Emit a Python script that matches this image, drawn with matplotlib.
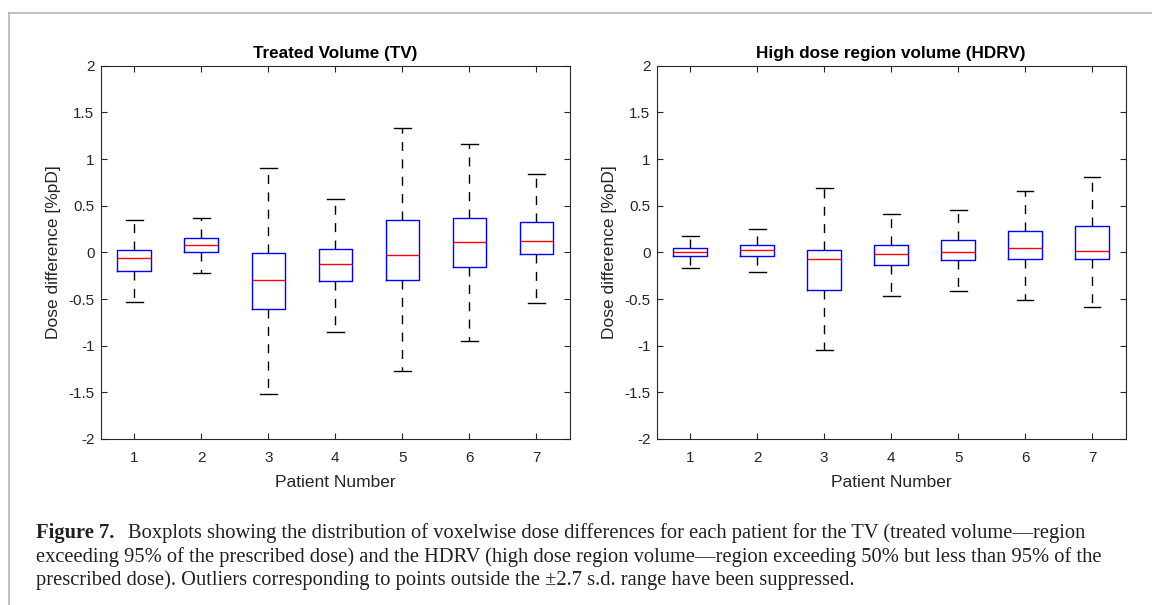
"""
Boxplots of voxelwise dose differences per patient, TV vs HDRV.
Box stats read off the published figure (whiskers at +-2.7 s.d., outliers hidden).
"""

import matplotlib
matplotlib.use("Agg")
import matplotlib.pyplot as plt
from matplotlib.lines import Line2D

plt.rcParams["font.family"] = ["Liberation Sans", "DejaVu Sans"]

patients = [1, 2, 3, 4, 5, 6, 7]

# Treated Volume (TV)
tv_whislo = [-0.53, -0.22, -1.52, -0.85, -1.27, -0.95, -0.54]
tv_q1     = [-0.20, 0.00, -0.61, -0.31, -0.30, -0.16, -0.02]
tv_med    = [-0.06, 0.075, -0.30, -0.12, -0.03, 0.11, 0.12]
tv_q3     = [0.02, 0.15, -0.01, 0.04, 0.35, 0.37, 0.33]
tv_whishi = [0.35, 0.37, 0.90, 0.57, 1.33, 1.16, 0.84]

# High dose region volume (HDRV)
hd_whislo = [-0.17, -0.21, -1.05, -0.47, -0.41, -0.51, -0.59]
hd_q1     = [-0.04, -0.035, -0.40, -0.14, -0.08, -0.07, -0.07]
hd_med    = [0.00, 0.025, -0.07, -0.02, 0.00, 0.045, 0.01]
hd_q3     = [0.045, 0.08, 0.03, 0.08, 0.13, 0.225, 0.28]
hd_whishi = [0.17, 0.255, 0.69, 0.41, 0.45, 0.66, 0.81]

yticks = [-2, -1.5, -1, -0.5, 0, 0.5, 1, 1.5, 2]
ytick_labels = ["-2", "-1.5", "-1", "-0.5", "0", "0.5", "1", "1.5", "2"]

caption_bold = "Figure 7."
caption_lines = [
    "Boxplots showing the distribution of voxelwise dose differences for each patient "
    "for the TV (treated volume\u2014region",
    "exceeding 95% of the prescribed dose) and the HDRV (high dose region volume\u2014region "
    "exceeding 50% but less than 95% of the",
    "prescribed dose). Outliers corresponding to points outside the \u00b12.7 s.d. range "
    "have been suppressed.",
]

AX_COL = "#262626"


def make_stats(lo, q1, med, q3, hi):
    return [dict(whislo=a, q1=b, med=c, q3=d, whishi=e, fliers=[])
            for a, b, c, d, e in zip(lo, q1, med, q3, hi)]


def draw_panel(ax, stats, title):
    ax.bxp(stats, positions=patients, widths=0.5, showfliers=False,
           boxprops=dict(color="blue", linewidth=1.0),
           medianprops=dict(color="red", linewidth=1.0),
           whiskerprops=dict(color="black", linewidth=1.0, linestyle=(0, (6.5, 6))),
           capprops=dict(color="black", linewidth=1.0))
    ax.set_xlim(0.5, 7.5)
    ax.set_ylim(-2, 2)
    ax.set_xticks(patients)
    ax.set_xticklabels([str(p) for p in patients])
    ax.set_yticks(yticks)
    ax.set_yticklabels(ytick_labels)
    ax.tick_params(direction="in", top=True, right=True, length=4, width=0.8,
                   colors=AX_COL, labelsize=11)
    ax.tick_params(axis="x", pad=8.5)
    ax.tick_params(axis="y", pad=4.5)
    for sp in ax.spines.values():
        sp.set_color(AX_COL)
        sp.set_linewidth(0.8)
    ax.set_xlabel("Patient Number", fontsize=12.5, color=AX_COL, labelpad=7.5)
    ax.set_ylabel("Dose difference [%pD]", fontsize=12.5, color=AX_COL, labelpad=5)
    ax.set_title(title, fontsize=12.3, fontweight="bold", color="black", pad=5.5)


fig = plt.figure(figsize=(11.52, 6.05), dpi=100)
ax1 = fig.add_axes([0.0874, 0.2744, 0.4074, 0.617])
ax2 = fig.add_axes([0.5700, 0.2744, 0.4071, 0.617])

draw_panel(ax1, make_stats(tv_whislo, tv_q1, tv_med, tv_q3, tv_whishi),
           "Treated Volume (TV)")
draw_panel(ax2, make_stats(hd_whislo, hd_q1, hd_med, hd_q3, hd_whishi),
           "High dose region volume (HDRV)")

# light grey frame around the figure panel (top and left edges)
W, H = 1152.0, 605.0
frame_x, frame_y = 9 / W, 1 - 13 / H
fig.add_artist(Line2D([frame_x, frame_x], [0, frame_y], transform=fig.transFigure,
                      color="#b4b4b4", linewidth=1.2))
fig.add_artist(Line2D([frame_x, 1], [frame_y, frame_y], transform=fig.transFigure,
                      color="#b4b4b4", linewidth=1.2))

# caption: size fitted so the first line spans the same width as in the paper
serif = ["Liberation Serif", "DejaVu Serif"]
renderer = fig.canvas.get_renderer()
x0 = 36 / W
probe_b = fig.text(0, 0, caption_bold + " ", family=serif, fontweight="bold", fontsize=10)
probe_r = fig.text(0, 0, caption_lines[0], family=serif, fontsize=10)
w10 = probe_b.get_window_extent(renderer).width + probe_r.get_window_extent(renderer).width
probe_b.remove()
probe_r.remove()
fs = 10 * (1086 - 36 - 10) / w10

baselines = [538, 562, 585]
tb = fig.text(x0, 1 - baselines[0] / H, caption_bold, family=serif, fontweight="bold",
              fontsize=fs, va="baseline", color="#231f20")
bw = tb.get_window_extent(renderer).width
fig.text(x0 + (bw + 14) / W, 1 - baselines[0] / H, caption_lines[0], family=serif,
         fontsize=fs, va="baseline", color="#231f20")
for line, yb in zip(caption_lines[1:], baselines[1:]):
    fig.text(x0, 1 - yb / H, line, family=serif, fontsize=fs, va="baseline",
             color="#231f20")

fig.savefig("out.png", dpi=100)
plt.close(fig)
